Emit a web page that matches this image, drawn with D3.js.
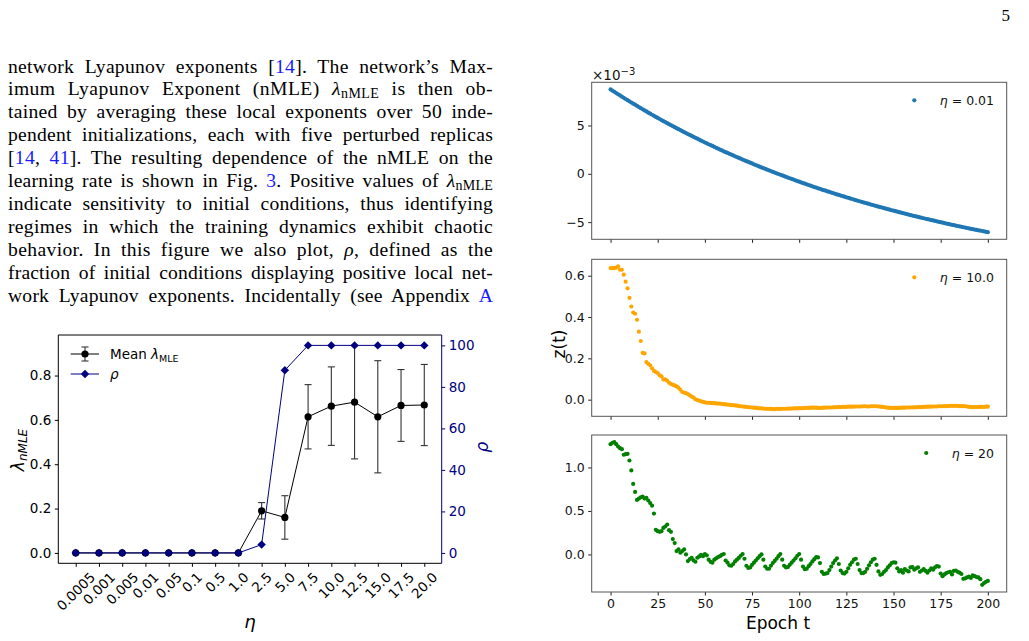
<!DOCTYPE html>
<html><head><meta charset="utf-8">
<script src="https://cdn.jsdelivr.net/npm/d3@7"></script>
<style>body{margin:0;background:#fff;}svg{display:block;}</style>
</head><body>
<svg id="c" width="1029" height="641"></svg>
<script>
// ---------------- DATA ----------------
const etaLabels = ["0.0005","0.001","0.005","0.01","0.05","0.1","0.5","1.0","2.5","5.0","7.5","10.0","12.5","15.0","17.5","20.0"];
const lambdaMean = [0,0,0,0,0,0,0,0,0.19,0.16,0.614,0.662,0.68,0.614,0.665,0.667];
const lambdaErr  = [0,0,0,0,0,0,0,0,0.037,0.098,0.145,0.177,0.256,0.253,0.162,0.183];
const rhoPct     = [0,0,0,0,0,0,0,0,4,88,100,100,100,100,100,100];
const lambdaTicks = [0,0.2,0.4,0.6,0.8];
const rhoTicks = [0,20,40,60,80,100];

const epochs = d3.range(0, 201);
const epochTicks = [0,25,50,75,100,125,150,175,200];
// eta = 0.01, values in units of 1e-3
const blueZ = [8.73,8.60,8.48,8.35,8.23,8.11,7.98,7.86,7.74,7.62,
7.50,7.38,7.26,7.15,7.03,6.91,6.79,6.68,6.56,6.45,
6.33,6.22,6.11,6.00,5.89,5.78,5.67,5.56,5.45,5.35,
5.24,5.14,5.03,4.93,4.82,4.72,4.62,4.52,4.41,4.31,
4.21,4.11,4.02,3.92,3.82,3.72,3.63,3.53,3.43,3.34,
3.24,3.15,3.06,2.97,2.88,2.78,2.69,2.60,2.51,2.42,
2.33,2.24,2.16,2.07,1.99,1.90,1.81,1.73,1.64,1.56,
1.47,1.39,1.31,1.23,1.15,1.07,0.98,0.90,0.82,0.74,
0.66,0.58,0.51,0.43,0.36,0.28,0.20,0.13,0.05,-0.02,
-0.10,-0.17,-0.24,-0.32,-0.39,-0.46,-0.53,-0.60,-0.68,-0.75,
-0.82,-0.89,-0.96,-1.02,-1.09,-1.16,-1.23,-1.30,-1.37,-1.43,
-1.50,-1.56,-1.63,-1.69,-1.75,-1.82,-1.88,-1.94,-2.00,-2.07,
-2.13,-2.19,-2.25,-2.31,-2.37,-2.43,-2.49,-2.55,-2.61,-2.67,
-2.73,-2.79,-2.84,-2.90,-2.95,-3.01,-3.07,-3.12,-3.18,-3.23,
-3.29,-3.34,-3.40,-3.45,-3.50,-3.56,-3.61,-3.66,-3.71,-3.77,
-3.82,-3.87,-3.92,-3.97,-4.02,-4.07,-4.12,-4.17,-4.22,-4.27,
-4.32,-4.37,-4.41,-4.46,-4.51,-4.56,-4.60,-4.65,-4.70,-4.74,
-4.79,-4.83,-4.88,-4.92,-4.97,-5.01,-5.06,-5.10,-5.15,-5.19,
-5.24,-5.28,-5.32,-5.36,-5.40,-5.44,-5.49,-5.53,-5.57,-5.61,
-5.65,-5.69,-5.73,-5.77,-5.81,-5.85,-5.88,-5.92,-5.96,-6.00,
-6.04];
// eta = 10.0
const orangeZ = [0.637,0.637,0.637,0.639,0.645,0.629,0.629,0.605,0.571,0.539,
0.493,0.451,0.422,0.416,0.387,0.329,0.284,0.227,0.224,0.182,
0.173,0.166,0.152,0.139,0.134,0.129,0.118,0.113,0.098,0.098,
0.092,0.082,0.076,0.072,0.069,0.064,0.058,0.048,0.037,0.034,
0.032,0.027,0.021,0.015,0.010,0.002,-0.002,-0.005,-0.008,-0.011,
-0.013,-0.015,-0.015,-0.016,-0.017,-0.017,-0.018,-0.019,-0.019,-0.021,
-0.022,-0.023,-0.024,-0.025,-0.026,-0.027,-0.028,-0.029,-0.031,-0.032,
-0.033,-0.034,-0.035,-0.036,-0.037,-0.038,-0.039,-0.040,-0.041,-0.042,
-0.042,-0.043,-0.044,-0.044,-0.045,-0.045,-0.046,-0.046,-0.045,-0.045,
-0.045,-0.044,-0.044,-0.044,-0.043,-0.043,-0.043,-0.042,-0.042,-0.042,
-0.041,-0.041,-0.041,-0.040,-0.040,-0.040,-0.039,-0.039,-0.039,-0.039,
-0.040,-0.040,-0.040,-0.039,-0.039,-0.038,-0.038,-0.038,-0.037,-0.037,
-0.036,-0.036,-0.036,-0.035,-0.035,-0.035,-0.034,-0.034,-0.034,-0.034,
-0.033,-0.033,-0.033,-0.033,-0.032,-0.032,-0.033,-0.033,-0.032,-0.032,
-0.032,-0.032,-0.033,-0.034,-0.035,-0.036,-0.038,-0.039,-0.040,-0.040,
-0.040,-0.040,-0.040,-0.040,-0.039,-0.039,-0.039,-0.038,-0.038,-0.038,
-0.037,-0.037,-0.037,-0.036,-0.036,-0.036,-0.035,-0.035,-0.034,-0.034,
-0.034,-0.033,-0.033,-0.033,-0.032,-0.032,-0.032,-0.031,-0.031,-0.031,
-0.030,-0.030,-0.030,-0.030,-0.030,-0.031,-0.031,-0.031,-0.032,-0.033,
-0.035,-0.036,-0.036,-0.036,-0.036,-0.035,-0.035,-0.035,-0.035,-0.034,
-0.034];
// eta = 20
const greenZ = [1.268,1.283,1.291,1.268,1.241,1.222,1.210,1.146,1.153,1.157,
1.080,0.966,0.810,0.718,0.627,0.642,0.657,0.665,0.642,0.650,
0.620,0.590,0.560,0.470,0.283,0.267,0.260,0.267,0.305,0.321,
0.344,0.279,0.260,0.176,0.130,0.038,0.057,0.019,0.038,0.057,
0.000,-0.076,-0.053,-0.038,-0.069,-0.084,-0.038,-0.023,-0.005,-0.020,
0.005,-0.010,-0.060,-0.085,-0.095,-0.060,-0.045,-0.030,-0.020,-0.005,
0.005,-0.070,-0.095,-0.125,-0.130,-0.110,-0.080,-0.060,-0.040,-0.015,
0.005,-0.050,-0.130,-0.155,-0.150,-0.120,-0.095,-0.070,-0.045,-0.020,
0.000,-0.060,-0.140,-0.165,-0.165,-0.130,-0.100,-0.075,-0.050,-0.020,
0.005,-0.060,-0.130,-0.150,-0.145,-0.120,-0.095,-0.070,-0.045,-0.015,
0.005,-0.060,-0.140,-0.170,-0.165,-0.135,-0.110,-0.080,-0.055,-0.030,
-0.035,-0.100,-0.200,-0.225,-0.220,-0.215,-0.180,-0.140,-0.100,-0.070,
-0.045,-0.110,-0.185,-0.215,-0.220,-0.200,-0.160,-0.120,-0.090,-0.060,
-0.050,-0.110,-0.180,-0.215,-0.215,-0.200,-0.165,-0.125,-0.090,-0.060,
-0.050,-0.120,-0.195,-0.235,-0.225,-0.200,-0.180,-0.150,-0.125,-0.100,
-0.090,-0.095,-0.160,-0.195,-0.180,-0.210,-0.170,-0.185,-0.195,-0.150,
-0.145,-0.175,-0.160,-0.150,-0.200,-0.185,-0.170,-0.190,-0.210,-0.185,
-0.160,-0.175,-0.150,-0.135,-0.140,-0.220,-0.250,-0.230,-0.215,-0.205,
-0.200,-0.230,-0.190,-0.185,-0.200,-0.210,-0.225,-0.280,-0.275,-0.265,
-0.255,-0.270,-0.240,-0.250,-0.260,-0.265,-0.285,-0.350,-0.330,-0.315,
-0.305];

// paragraph text (segments: [text, kind]) n=normal, l=link, i=italic, s=subscript
const paragraph = [
 [["network Lyapunov exponents ["],["14","l"],["]. The network’s Max-"]],
 [["imum Lyapunov Exponent (nMLE) "],["λ","i"],["nMLE","s"],[" is then ob-"]],
 [["tained by averaging these local exponents over 50 inde-"]],
 [["pendent initializations, each with five perturbed replicas"]],
 [["["],["14","l"],[", "],["41","l"],["]. The resulting dependence of the nMLE on the"]],
 [["learning rate is shown in Fig. "],["3","l"],[". Positive values of "],["λ","i"],["nMLE","s"]],
 [["indicate sensitivity to initial conditions, thus identifying"]],
 [["regimes in which the training dynamics exhibit chaotic"]],
 [["behavior. In this figure we also plot, "],["ρ","i"],[", defined as the"]],
 [["fraction of initial conditions displaying positive local net-"]],
 [["work Lyapunov exponents. Incidentally (see Appendix "],["A","l"]]
];

// ---------------- DRAW ----------------
const svg = d3.select("#c");
const SANS = "'DejaVu Sans', sans-serif";
const SERIF = "'Liberation Serif', 'DejaVu Serif', serif";
const NAVY = "#000080";

svg.append("text").attr("x",1010).attr("y",21).attr("text-anchor","end")
  .attr("font-family",SERIF).attr("font-size",17).text("5");

// paragraph, justified
const TX0 = 8, TX1 = 493, BASE0 = 72.5, LH = 22.9;
paragraph.forEach((segs,i)=>{
  const t = svg.append("text").attr("x",TX0).attr("y",BASE0+i*LH)
    .attr("font-family",SERIF).attr("font-size",19.6).attr("fill","#000");
  let sub=false;
  segs.forEach(([s,k])=>{
    const ts = t.append("tspan").text(s);
    if(k==="l") ts.attr("fill","#1a1aff");
    if(k==="i") ts.attr("font-style","italic");
    if(k==="s"){ ts.attr("font-size",14).attr("dy",3); sub=true; }
    else if(sub){ ts.attr("dy",-3); sub=false; }
  });
  const full = segs.map(d=>d[0]).join("");
  const nSp = full.split(" ").length-1;
  const target = TX1-TX0;
  let w = t.node().getComputedTextLength();
  const diff = target-w;
  if(diff>0){
    const ls = diff*0.3/full.length;
    t.style("letter-spacing", ls+"px");
    w = t.node().getComputedTextLength();
    if(nSp>0) t.style("word-spacing", ((target-w)/nSp)+"px");
  } else {
    t.style("letter-spacing", (diff/full.length)+"px");
  }
});

// ---------- Left chart ----------
const L = {x0:58.3, x1:441.7, y0:335, y1:563.3};
const n = etaLabels.length;
const xL = d3.scaleLinear().domain([-(n-1)*0.05, (n-1)*1.05]).range([L.x0, L.x1]);
const lamMax = d3.max(lambdaMean.map((m,i)=>m+lambdaErr[i]));
const lamMin = 0;
const lm = (lamMax-lamMin)*0.05;
const yL = d3.scaleLinear().domain([lamMin-lm, lamMax+lm]).range([L.y1, L.y0]);
const yR = d3.scaleLinear().domain([-5,105]).range([L.y1, L.y0]);

// left axis
const gL = svg.append("g").attr("transform",`translate(${L.x0},0)`)
  .call(d3.axisLeft(yL).tickValues(lambdaTicks).tickSize(3.5).tickPadding(3.5).tickFormat(d3.format(".1f")));
gL.select(".domain").remove();
gL.selectAll("text").attr("font-family",SANS).attr("font-size",13.5).attr("fill","#000");
gL.selectAll("line").attr("stroke","#000");

// right axis
const gR = svg.append("g").attr("transform",`translate(${L.x1},0)`).attr("color",NAVY)
  .call(d3.axisRight(yR).tickValues(rhoTicks).tickSize(3.5).tickPadding(3.5).tickFormat(d3.format("d")));
gR.select(".domain").remove();
gR.selectAll("text").attr("font-family",SANS).attr("font-size",13.5);

// bottom ticks
const gB = svg.append("g").attr("transform",`translate(0,${L.y1})`)
  .call(d3.axisBottom(xL).tickValues(d3.range(n)).tickSize(3.5).tickFormat(""));
gB.select(".domain").remove();
gB.selectAll("line").attr("stroke","#000");
// rotated tick labels
etaLabels.forEach((lab,i)=>{
  const t = svg.append("text").attr("font-family",SANS).attr("font-size",13.5)
    .attr("text-anchor","middle").attr("dominant-baseline","central").text(lab);
  const w = t.node().getComputedTextLength();
  const h = (w + 13.5*0.9)*Math.SQRT1_2;
  const cx = xL(i), cy = L.y1 + 7 + h/2;
  t.attr("x",cx).attr("y",cy).attr("transform",`rotate(-45,${cx},${cy})`);
});

// frame
svg.append("path").attr("d",`M${L.x1},${L.y0}H${L.x0}V${L.y1}H${L.x1}`).attr("fill","none").attr("stroke","#000").attr("stroke-width",1);
svg.append("line").attr("x1",L.x1).attr("x2",L.x1).attr("y1",L.y0).attr("y2",L.y1).attr("stroke",NAVY).attr("stroke-width",1);

// error bars
const eb = svg.append("g").attr("stroke","#333").attr("stroke-width",1.1);
lambdaMean.forEach((m,i)=>{
  const e = lambdaErr[i]; const x = xL(i);
  eb.append("line").attr("x1",x).attr("x2",x).attr("y1",yL(m-e)).attr("y2",yL(m+e));
  eb.append("line").attr("x1",x-3.5).attr("x2",x+3.5).attr("y1",yL(m-e)).attr("y2",yL(m-e));
  eb.append("line").attr("x1",x-3.5).attr("x2",x+3.5).attr("y1",yL(m+e)).attr("y2",yL(m+e));
});
svg.append("path").datum(lambdaMean)
  .attr("d",d3.line().x((d,i)=>xL(i)).y(d=>yL(d)))
  .attr("fill","none").attr("stroke","#000").attr("stroke-width",1);
svg.append("g").selectAll("circle").data(lambdaMean).join("circle")
  .attr("cx",(d,i)=>xL(i)).attr("cy",d=>yL(d)).attr("r",3.6).attr("fill","#000");

const diamond = (x,y,s)=>`M${x},${y-s}L${x+s},${y}L${x},${y+s}L${x-s},${y}Z`;
svg.append("path").datum(rhoPct)
  .attr("d",d3.line().x((d,i)=>xL(i)).y(d=>yR(d)))
  .attr("fill","none").attr("stroke",NAVY).attr("stroke-width",1);
svg.append("g").selectAll("path").data(rhoPct).join("path")
  .attr("d",(d,i)=>diamond(xL(i),yR(d),4.2)).attr("fill",NAVY);

// legend
const lg = svg.append("g");
lg.append("line").attr("x1",70.7).attr("x2",99).attr("y1",354).attr("y2",354).attr("stroke","#000").attr("stroke-width",1);
lg.append("line").attr("x1",85).attr("x2",85).attr("y1",347).attr("y2",361).attr("stroke","#333").attr("stroke-width",1.1);
lg.append("line").attr("x1",81.5).attr("x2",88.5).attr("y1",347).attr("y2",347).attr("stroke","#333").attr("stroke-width",1.1);
lg.append("line").attr("x1",81.5).attr("x2",88.5).attr("y1",361).attr("y2",361).attr("stroke","#333").attr("stroke-width",1.1);
lg.append("circle").attr("cx",85).attr("cy",354).attr("r",3.6).attr("fill","#000");
lg.append("line").attr("x1",70.7).attr("x2",99).attr("y1",374).attr("y2",374).attr("stroke",NAVY).attr("stroke-width",1);
lg.append("path").attr("d",diamond(85,374,4.2)).attr("fill",NAVY);
const lt1 = lg.append("text").attr("x",110).attr("y",359).attr("font-family",SANS).attr("font-size",13.5);
lt1.append("tspan").text("Mean ");
lt1.append("tspan").attr("font-style","italic").text("λ");
lt1.append("tspan").attr("font-size",9.5).attr("dy",2.5).text("MLE");
lg.append("text").attr("x",110).attr("y",379).attr("font-family",SANS).attr("font-size",13.5).attr("font-style","italic").text("ρ");

// axis labels
const yl = svg.append("text").attr("transform","translate(24,450) rotate(-90)").attr("text-anchor","middle")
  .attr("font-family",SANS).attr("font-size",17).attr("font-style","italic");
yl.append("tspan").text("λ");
yl.append("tspan").attr("font-size",12).attr("dy",3).text("nMLE");
svg.append("text").attr("transform","translate(488,447) rotate(-90)").attr("text-anchor","middle")
  .attr("font-family",SANS).attr("font-size",17).attr("font-style","italic").attr("fill",NAVY).text("ρ");
svg.append("text").attr("x",250).attr("y",628).attr("text-anchor","middle")
  .attr("font-family",SANS).attr("font-size",18).attr("font-style","italic").text("η");

// ---------- Right panels ----------
const R = {x0:591.7, x1:1006.7, h:157};
const xR = d3.scaleLinear().domain([-10,210]).range([R.x0,R.x1]);
const panels = [
  {data:blueZ, color:"#1f77b4", label:"0.01", ticks:[-5,0,5], fmt:d3.format("d"), top:82.3},
  {data:orangeZ, color:"#ffa500", label:"10.0", ticks:[0,0.2,0.4,0.6], fmt:d3.format(".1f"), top:259.3},
  {data:greenZ, color:"#008000", label:"20", ticks:[0,0.5,1.0], fmt:d3.format(".1f"), top:435}
];
panels.forEach((p,k)=>{
  const bot = p.top + R.h;
  const ext = d3.extent(p.data); const m = (ext[1]-ext[0])*0.05;
  const y = d3.scaleLinear().domain([ext[0]-m, ext[1]+m]).range([bot, p.top]);
  const ga = svg.append("g").attr("transform",`translate(${R.x0},0)`)
    .call(d3.axisLeft(y).tickValues(p.ticks).tickSize(3.5).tickPadding(3.5).tickFormat(p.fmt));
  ga.select(".domain").remove();
  ga.selectAll("text").attr("font-family",SANS).attr("font-size",12.5).attr("fill","#111");
  ga.selectAll("line").attr("stroke","#222");
  const gx = svg.append("g").attr("transform",`translate(0,${bot})`)
    .call(d3.axisBottom(xR).tickValues(epochTicks).tickSize(3.5).tickPadding(3.5).tickFormat(k===2?d3.format("d"):""));
  gx.select(".domain").remove();
  gx.selectAll("text").attr("font-family",SANS).attr("font-size",12.5).attr("fill","#111");
  gx.selectAll("line").attr("stroke","#222");
  svg.append("rect").attr("x",R.x0).attr("y",p.top).attr("width",R.x1-R.x0).attr("height",R.h)
    .attr("fill","none").attr("stroke","#555").attr("stroke-width",1);
  svg.append("g").selectAll("circle").data(p.data).join("circle")
    .attr("cx",(d,i)=>xR(epochs[i])).attr("cy",d=>y(d)).attr("r",2.1).attr("fill",p.color);
  // legend
  const lt = svg.append("text").attr("x",994).attr("y",p.top+22.5).attr("text-anchor","end")
    .attr("font-family",SANS).attr("font-size",12.5).attr("fill","#111");
  lt.append("tspan").attr("font-style","italic").text("η");
  lt.append("tspan").text(" = "+p.label);
  const tw = lt.node().getComputedTextLength();
  svg.append("circle").attr("cx",994-tw-25.5).attr("cy",p.top+18).attr("r",2.1).attr("fill",p.color);
});
// offset text
const off = svg.append("text").attr("x",592).attr("y",80).attr("font-family",SANS).attr("font-size",13.5).attr("fill","#111");
off.append("tspan").text("×10");
off.append("tspan").attr("font-size",10).attr("dy",-5.5).text("−3");
svg.append("text").attr("x",778).attr("y",629).attr("text-anchor","middle").attr("font-family",SANS).attr("font-size",17).text("Epoch t");
svg.append("text").attr("transform","translate(565,344) rotate(-90)").attr("text-anchor","middle")
  .attr("font-family",SANS).attr("font-size",17).text("z(t)");
</script>
</body></html>
